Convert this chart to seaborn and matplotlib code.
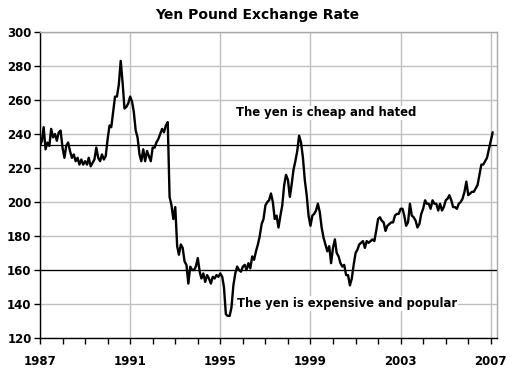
import numpy as np
import pandas as pd
import matplotlib
matplotlib.use("Agg")
import matplotlib.pyplot as plt
import matplotlib.dates as mdates
import seaborn as sns

# Monthly GBP/JPY readings, Jan 1987 onward
rate_1987_1990 = [233, 236, 244, 231, 235, 233, 243, 238, 240, 236, 241, 242,
                  232, 226, 233, 235, 230, 226, 228, 224, 226, 222, 225, 222,
                  224, 222, 226, 221, 223, 225, 232, 226, 224, 228, 225, 227,
                  237, 245, 244, 253, 262, 262, 269, 283, 270, 255, 256, 258]
rate_1991_1994 = [262, 259, 253, 242, 238, 228, 224, 231, 224, 230, 227, 224,
                  232, 232, 235, 237, 240, 243, 241, 245, 247, 203, 198, 190,
                  197, 174, 169, 175, 173, 165, 163, 152, 162, 160, 160, 162,
                  167, 159, 155, 158, 153, 157, 155, 152, 156, 155, 157, 156]
rate_1995_1998 = [158, 156, 150, 134, 133, 133, 138, 151, 158, 162, 160, 159,
                  162, 163, 160, 164, 161, 168, 166, 171, 175, 180, 187, 190,
                  198, 200, 201, 205, 200, 190, 192, 185, 192, 198, 210, 216,
                  213, 203, 210, 219, 224, 230, 239, 235, 226, 213, 204, 192]
rate_1999_2002 = [186, 192, 193, 195, 199, 194, 185, 179, 175, 171, 174, 164,
                  173, 178, 170, 168, 164, 162, 163, 157, 157, 151, 155, 163,
                  170, 172, 175, 176, 177, 173, 177, 176, 177, 178, 177, 183,
                  190, 191, 189, 188, 183, 186, 187, 188, 188, 192, 193, 193]
rate_2003_2007 = [196, 196, 192, 186, 188, 199, 192, 191, 189, 185, 187, 193,
                  196, 201, 199, 199, 196, 201, 199, 199, 195, 199, 195, 197,
                  201, 202, 204, 201, 197, 197, 196, 199, 200, 202, 206, 212,
                  204, 205, 206, 206, 208, 210, 216, 222, 222, 224, 226, 231,
                  236, 241]

rates = rate_1987_1990 + rate_1991_1994 + rate_1995_1998 + rate_1999_2002 + rate_2003_2007
months = pd.date_range("1987-01-01", periods=len(rates), freq="MS")
df = pd.DataFrame({"month": months, "rate": rates})

cheap_level = 233.5
expensive_level = 160
title = "Yen Pound Exchange Rate"
cheap_text = "The yen is cheap and hated"
expensive_text = "The yen is expensive and popular"
y_ticks = [120, 140, 160, 180, 200, 220, 240, 260, 280, 300]
x_major_years = [1987, 1991, 1995, 1999, 2003, 2007]
x_minor_years = list(range(1987, 2008))

sns.set_style("white")
plt.rcParams["font.family"] = ["DejaVu Sans"]
plt.rcParams["text.color"] = "black"
plt.rcParams["xtick.color"] = "black"
plt.rcParams["ytick.color"] = "black"
plt.rcParams["xtick.labelcolor"] = "black"
plt.rcParams["ytick.labelcolor"] = "black"

fig = plt.figure(figsize=(5.2, 3.75), dpi=100)
ax = fig.add_axes([40 / 520, 1 - 338 / 375, 457.5 / 520, 306 / 375])

sns.lineplot(data=df, x="month", y="rate", color="black", linewidth=1.7, ax=ax)

ax.axhline(cheap_level, color="black", linewidth=0.9, zorder=3)
ax.axhline(expensive_level, color="black", linewidth=0.9, zorder=3)

ax.set_xlim(pd.Timestamp("1987-01-01"), pd.Timestamp("2007-04-20"))
ax.set_ylim(120, 300)
ax.set_yticks(y_ticks)

major_pos = [mdates.date2num(pd.Timestamp(f"{y}-01-01")) for y in x_major_years]
minor_pos = [mdates.date2num(pd.Timestamp(f"{y}-01-01")) for y in x_minor_years]
ax.set_xticks(major_pos)
ax.set_xticklabels([str(y) for y in x_major_years])
ax.set_xticks(minor_pos, minor=True)

ax.grid(True, which="major", color="#c0c0c0", linewidth=1.0)
ax.set_axisbelow(True)

for side in ["top", "right"]:
    ax.spines[side].set_color("#a8a8a8")
    ax.spines[side].set_linewidth(1.0)
for side in ["left", "bottom"]:
    ax.spines[side].set_color("black")
    ax.spines[side].set_linewidth(1.0)

ax.tick_params(axis="x", which="major", direction="out", length=4, width=1,
               color="black", pad=8, labelsize=8.5, bottom=True)
ax.tick_params(axis="x", which="minor", direction="out", length=4, width=1,
               color="black", bottom=True)
ax.tick_params(axis="y", which="major", direction="out", length=4, width=1,
               color="black", pad=2, labelsize=8.5, left=True)
for lab in ax.get_xticklabels() + ax.get_yticklabels():
    lab.set_fontweight("bold")
    lab.set_color("black")

ax.set_xlabel("")
ax.set_ylabel("")

ax.text(pd.Timestamp("1995-09-10"), 252.4, cheap_text, fontsize=8.4,
        fontweight="bold", va="center", ha="left", color="black",
        bbox=dict(facecolor="white", edgecolor="none", pad=0.5))
ax.text(pd.Timestamp("1995-09-25"), 140.2, expensive_text, fontsize=8.4,
        fontweight="bold", va="center", ha="left", zorder=4, color="black",
        bbox=dict(facecolor="white", edgecolor="none", pad=0.5))

fig.text(257 / 520, 1 - 15 / 375, title, fontsize=10, fontweight="bold",
         ha="center", va="center", color="black")

fig.savefig("out.png", dpi=100, facecolor="white")
